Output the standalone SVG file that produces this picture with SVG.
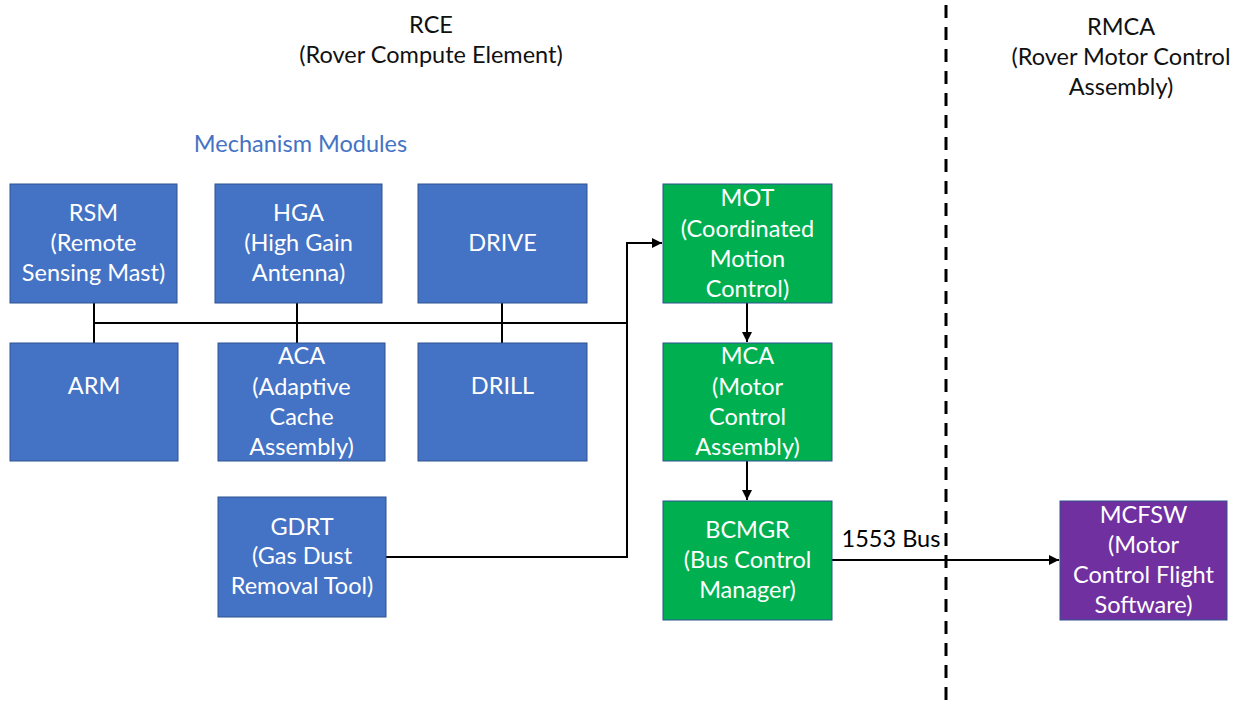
<svg xmlns="http://www.w3.org/2000/svg" width="1243" height="704" viewBox="0 0 1243 704">
<defs>
<marker id="arr" viewBox="0 0 10 10" refX="10" refY="5" markerWidth="5" markerHeight="5" orient="auto" markerUnits="strokeWidth">
<path d="M0,0 L10,5 L0,10 z" fill="#000"/>
</marker>
<style>
.box{stroke:#2F528F;stroke-width:1}
.blue{fill:#4472C4}
.green{fill:#00B050}
.purple{fill:#7030A0}
.t{font-family:Lato,"Open Sans","Liberation Sans",sans-serif;font-size:23.5px;fill:#fff;text-anchor:middle}
.k{font-family:Lato,"Open Sans","Liberation Sans",sans-serif;font-size:23.5px;fill:#111;text-anchor:middle}
.ln{fill:none;stroke:#000;stroke-width:2}
</style>
</defs>
<rect width="1243" height="704" fill="#fff"/>
<g id="titles">
<text class="k" x="431" y="33">RCE</text>
<text class="k" x="431" y="63">(Rover Compute Element)</text>
<text class="k" x="1121" y="35">RMCA</text>
<text class="k" x="1121" y="65">(Rover Motor Control</text>
<text class="k" x="1121" y="95">Assembly)</text>
<text class="k" x="300.5" y="152" style="fill:#4472C4">Mechanism Modules</text>
</g>
<g id="divider">
<line x1="946" y1="5" x2="946" y2="704" stroke="#000" stroke-width="3" stroke-dasharray="13 9"/>
</g>
<g id="connectors">
<line class="ln" x1="94" y1="323" x2="627" y2="323"/>
<line class="ln" x1="94" y1="303" x2="94" y2="343"/>
<line class="ln" x1="297" y1="303" x2="297" y2="343"/>
<line class="ln" x1="502" y1="303" x2="502" y2="343"/>
<polyline class="ln" points="386,557 627,557 627,243 662,243" marker-end="url(#arr)"/>
<line class="ln" x1="747" y1="303" x2="747" y2="342" marker-end="url(#arr)"/>
<line class="ln" x1="747" y1="461" x2="747" y2="500" marker-end="url(#arr)"/>
<line class="ln" x1="832" y1="560" x2="1059" y2="560" marker-end="url(#arr)"/>
<text class="k" x="891" y="547" style="fill:#000">1553 Bus</text>
</g>
<g id="rsm">
<rect class="box blue" x="10" y="184" width="167" height="119"/>
<text class="t" x="93.5" y="221">RSM</text>
<text class="t" x="93.5" y="251">(Remote</text>
<text class="t" x="93.5" y="281">Sensing Mast)</text>
</g>
<g id="hga">
<rect class="box blue" x="215" y="184" width="167" height="119"/>
<text class="t" x="298.5" y="221">HGA</text>
<text class="t" x="298.5" y="251">(High Gain</text>
<text class="t" x="298.5" y="281">Antenna)</text>
</g>
<g id="drive">
<rect class="box blue" x="418" y="184" width="169" height="119"/>
<text class="t" x="502.5" y="251">DRIVE</text>
</g>
<g id="mot">
<rect class="box green" x="663" y="184" width="169" height="119"/>
<text class="t" x="747.5" y="206">MOT</text>
<text class="t" x="747.5" y="237">(Coordinated</text>
<text class="t" x="747.5" y="267">Motion</text>
<text class="t" x="747.5" y="297">Control)</text>
</g>
<g id="arm">
<rect class="box blue" x="10" y="343" width="168" height="118"/>
<text class="t" x="94" y="394">ARM</text>
</g>
<g id="aca">
<rect class="box blue" x="218" y="343" width="167" height="118"/>
<text class="t" x="301.5" y="364">ACA</text>
<text class="t" x="301.5" y="395">(Adaptive</text>
<text class="t" x="301.5" y="425">Cache</text>
<text class="t" x="301.5" y="455">Assembly)</text>
</g>
<g id="drill">
<rect class="box blue" x="418" y="343" width="169" height="118"/>
<text class="t" x="502.5" y="394">DRILL</text>
</g>
<g id="mca">
<rect class="box green" x="663" y="343" width="169" height="118"/>
<text class="t" x="747.5" y="364">MCA</text>
<text class="t" x="747.5" y="395">(Motor</text>
<text class="t" x="747.5" y="425">Control</text>
<text class="t" x="747.5" y="455">Assembly)</text>
</g>
<g id="gdrt">
<rect class="box blue" x="218" y="497" width="168" height="120"/>
<text class="t" x="302" y="535">GDRT</text>
<text class="t" x="302" y="564">(Gas Dust</text>
<text class="t" x="302" y="594">Removal Tool)</text>
</g>
<g id="bcmgr">
<rect class="box green" x="663" y="501" width="169" height="119"/>
<text class="t" x="747.5" y="538">BCMGR</text>
<text class="t" x="747.5" y="568">(Bus Control</text>
<text class="t" x="747.5" y="598">Manager)</text>
</g>
<g id="mcfsw">
<rect class="box purple" x="1060" y="501" width="167" height="119"/>
<text class="t" x="1143.5" y="523">MCFSW</text>
<text class="t" x="1143.5" y="553">(Motor</text>
<text class="t" x="1143.5" y="583">Control Flight</text>
<text class="t" x="1143.5" y="613">Software)</text>
</g>
</svg>
